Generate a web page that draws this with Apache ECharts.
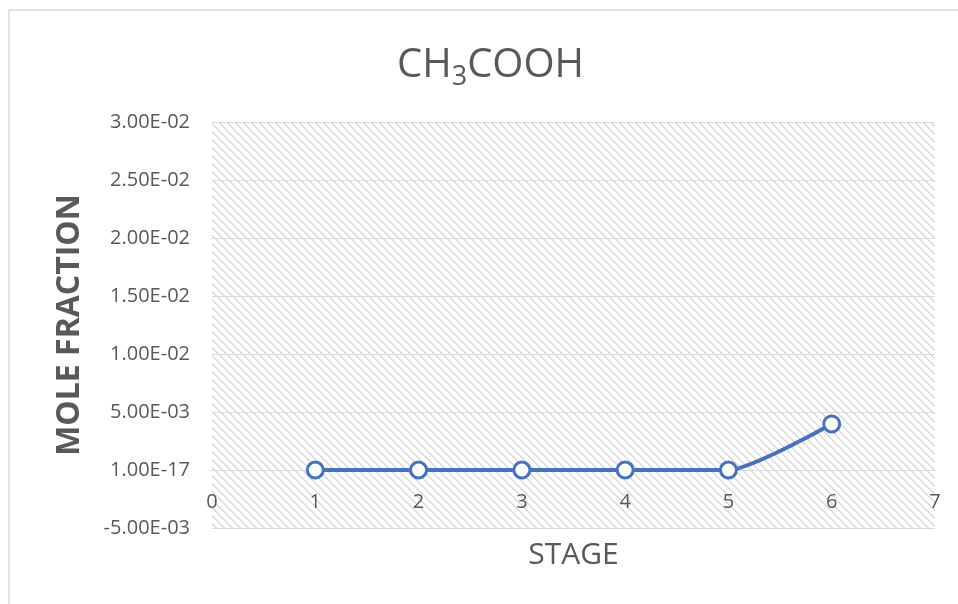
<!DOCTYPE html>
<html>
<head>
<meta charset="utf-8">
<script src="https://cdn.jsdelivr.net/npm/echarts@6/dist/echarts.min.js"></script>
<style>
html,body{margin:0;padding:0;background:#fff;}
#chart{width:958px;height:604px;}
</style>
</head>
<body>
<div id="chart"></div>
<script>
// ---- data ----
var stages = [1, 2, 3, 4, 5, 6];
var moleFraction = [0, 0, 0, 0, 0, 0.00397];
var yTickLabels = ['-5.00E-03', '1.00E-17', '5.00E-03', '1.00E-02', '1.50E-02', '2.00E-02', '2.50E-02', '3.00E-02'];
var xTickLabels = ['0', '1', '2', '3', '4', '5', '6', '7'];

var Y_MIN = -0.005, Y_MAX = 0.03, Y_INT = 0.005;

// hatch pattern (wide downward diagonal)
var tile = document.createElement('canvas');
tile.width = 8; tile.height = 8;
var tc = tile.getContext('2d');
tc.fillStyle = '#ffffff';
tc.fillRect(0, 0, 8, 8);
tc.fillStyle = '#dadada';
for (var i = 0; i < 8; i++) {
  tc.fillRect(i, i, 1, 1);
  tc.fillRect((i + 1) % 8, i, 1, 1);
}

var chart = echarts.init(document.getElementById('chart'), null, {renderer: 'canvas'});
var txt = '#595959';
var font = '"Open Sans", sans-serif';

var data = stages.map(function (s, k) { return [s, moleFraction[k]]; });

var GRID_TOP = 122, GRID_BOTTOM = 76, H = 604;
var gridH = H - GRID_TOP - GRID_BOTTOM;
// x axis crosses at y = 0 : shift it up from the bottom by the height of the part below zero
var zeroOffset = -gridH * (0 - Y_MIN) / (Y_MAX - Y_MIN);

chart.setOption({
  animation: false,
  backgroundColor: '#ffffff',
  title: {
    text: '{a|CH}{b|3}{a|COOH}',
    left: 392,
    top: 36,
    textStyle: {
      fontWeight: 'normal',
      rich: {
        a: {fontFamily: font, fontSize: 40, fontWeight: 'normal', color: txt, lineHeight: 50},
        b: {fontFamily: font, fontSize: 27, fontWeight: 'normal', color: txt, lineHeight: 26, verticalAlign: 'bottom'}
      }
    }
  },
  graphic: [
    {type: 'line', shape: {x1: 9, y1: 10, x2: 9, y2: 604}, style: {stroke: '#d9d9d9', lineWidth: 1.5}, silent: true},
    {type: 'line', shape: {x1: 9, y1: 10, x2: 958, y2: 10}, style: {stroke: '#d9d9d9', lineWidth: 1.5}, silent: true}
  ],
  grid: {
    left: 212, right: 23, top: GRID_TOP, bottom: GRID_BOTTOM,
    outerBoundsMode: 'none',
    containLabel: false,
    show: true,
    borderWidth: 0,
    backgroundColor: {image: tile, repeat: 'repeat'}
  },
  xAxis: {
    type: 'value',
    min: 0, max: 7, interval: 1,
    offset: zeroOffset,
    name: 'STAGE',
    nameLocation: 'middle',
    nameGap: 70,
    nameTextStyle: {fontFamily: font, fontSize: 30, color: txt},
    axisLine: {show: true, onZero: false, lineStyle: {color: '#d9d9d9', width: 1}},
    axisTick: {show: false},
    splitLine: {show: false},
    axisLabel: {
      fontFamily: font, fontSize: 20, color: txt, margin: 22,
      formatter: function (v) { return xTickLabels[Math.round(v)]; }
    }
  },
  yAxis: {
    type: 'value',
    min: Y_MIN, max: Y_MAX, interval: Y_INT,
    name: 'MOLE FRACTION',
    nameLocation: 'middle',
    nameRotate: 90,
    nameGap: 126,
    nameTextStyle: {fontFamily: font, fontSize: 32, fontWeight: 'bold', color: txt},
    axisLine: {show: true, onZero: false, lineStyle: {color: 'rgba(0,0,0,0)'}},
    axisTick: {show: false},
    splitLine: {show: true, lineStyle: {color: '#d9d9d9', width: 1}},
    axisLabel: {
      fontFamily: font, fontSize: 20, color: txt, margin: 22,
      formatter: function (v) { return yTickLabels[Math.round((v - Y_MIN) / Y_INT)]; }
    }
  },
  series: [{
    type: 'line',
    data: data,
    smooth: 0.2,
    symbol: 'circle',
    symbolSize: 16,
    lineStyle: {color: '#4472C4', width: 4},
    itemStyle: {color: '#ffffff', borderColor: '#4472C4', borderWidth: 3},
    z: 5
  }]
});
</script>
</body>
</html>
